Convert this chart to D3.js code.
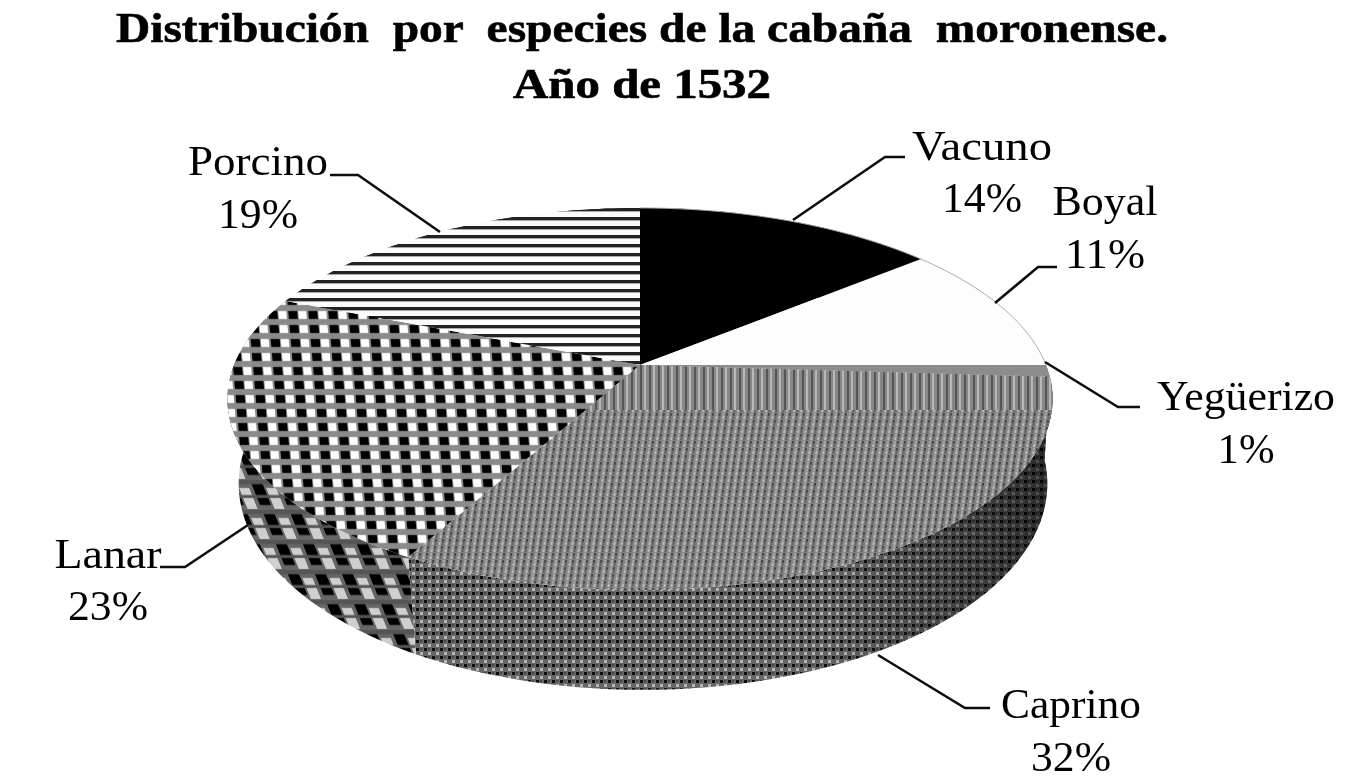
<!DOCTYPE html>
<html><head><meta charset="utf-8">
<script src="https://cdnjs.cloudflare.com/ajax/libs/d3/7.8.5/d3.min.js"></script>
<style>html,body{margin:0;background:#fff}svg{display:block}text{font-family:"Liberation Serif",serif;fill:#000}</style>
</head><body><svg id="c" width="1358" height="782"></svg>
<script>
const titleLines=["Distribución  por  especies de la cabaña  moronense.","Año de 1532"];
const titleWidths=[1052,258];
const categories=["Vacuno","Boyal","Yegüerizo","Caprino","Lanar","Porcino"];
const values=[14,11,1,32,23,19];
const patternIds=["vac","boy","yeg","cap","lan","por"];
const wallIds=["vac","boy","yeg","capw","lanw","por"];
const labelPos=[[982,160,212],[1105,215,268],[1246,410,463],[1071,718,771],[108,568,620],[258,175,228]];
const labelWidths=[140,105,178,140,107,140];
const pctWidths=[80,80,57,80,80,80];
const leaders=[[[905,157],[885,157],[793,220]],[[1057,267],[1038,267],[995,303]],[[1140,407],[1118,407],[1045,362]],[[990,708],[965,708],[878,655]],[[160,567],[185,567],[248,525]],[[330,175],[358,175],[440,232]]];

const svg=d3.select("#c");
const defs=svg.append("defs");
defs.append("filter").attr("id","soft").attr("x",0).attr("y",0).attr("width",1).attr("height",1)
  .append("feGaussianBlur").attr("stdDeviation",0.7);
function pat(id,w,h,bg,cells,tf){
  const p=defs.append("pattern").attr("id",id).attr("patternUnits","userSpaceOnUse").attr("width",w).attr("height",h);
  if(tf)p.attr("patternTransform",tf);
  p.append("rect").attr("width",w).attr("height",h).attr("fill",bg);
  cells.forEach(c=>p.append("rect").attr("x",c[0]).attr("y",c[1]).attr("width",c[2]).attr("height",c[3]).attr("fill",c[4]));
}
pat("vac",4,4,"#000",[]);
pat("boy",4,4,"#fdfdfd",[]);
pat("yeg",4,4,"#8c8c8c",[]);
pat("cap",7,7,"#858585",[[0,0,2,3,"#444"],[4,3,2,3,"#c0c0c0"],[4,0,2,2,"#a8a8a8"],[0,4,2,2,"#5c5c5c"]],"skewX(-8)");
pat("capv",9,10,"#878787",[[1,0,2,10,"#555"],[5,0,2,10,"#b8b8b8"]]);
pat("capw",8,8,"#666",[[0,0,3,3,"#0c0c0c"],[4,4,3,3,"#b5b5b5"],[4,0,2,2,"#444"]]);
pat("lan",20,14,"#8a8a8a",[[1,3,9,8,"#000"],[11,3,8,8,"#fff"]],"skewX(5)");
pat("lanw",27,30,"#666",[[2,4,11,21,"#000"],[15,8,10,21,"#cfcfcf"],[0,0,27,4,"#555"],[0,15,27,3,"#555"]],"skewX(22)");
pat("por",12,9,"#fbfbfb",[[0,1,12,3,"#222"],[0,4,12,1,"#aaa"]]);
const shade=defs.append("linearGradient").attr("id","shade").attr("gradientUnits","userSpaceOnUse")
  .attr("x1",820).attr("x2",1050).attr("y1",0).attr("y2",0);
shade.append("stop").attr("offset",0).attr("stop-color","#000").attr("stop-opacity",0);
shade.append("stop").attr("offset",1).attr("stop-color","#000").attr("stop-opacity",0.6);

const cx=640,cy=365,rx=406,ry=185,k=0.178,depth=82,lowerScale=0.98,lowerShift=3;
const x=d3.scaleLinear().domain([-1,1]).range([cx-rx,cx+rx]);
const y=d3.scaleLinear().domain([-1,1]).range([cy-ry,cy+ry]);
const project=(a,r,d=0)=>{const u=Math.sin(a)*r,v=-Math.cos(a)*r,w=1-k*v;
  return d?[cx+lowerShift+(x(u/w)-cx)*lowerScale,y(v/w)+d/w]:[x(u/w),y(v/w)];};
const arcs=d3.pie().sort(null)(values);
const line=d3.line();
const sample=(a0,a1,d)=>d3.range(0,61).map(i=>project(a0+(a1-a0)*i/60,1,d));
const topPath=s=>line([project(0,0),...sample(s.startAngle,s.endAngle,0)])+"Z";
const wallPath=s=>line([...sample(s.startAngle,s.endAngle,0),...sample(s.endAngle,s.startAngle,depth)])+"Z";

defs.append("clipPath").attr("id","capClip").append("path").attr("d",topPath(arcs[3]));
const g=svg.append("g").attr("filter","url(#soft)");
g.selectAll("path.wall").data(arcs).join("path").attr("class","wall").attr("d",wallPath)
  .attr("fill",(d,i)=>`url(#${wallIds[i]})`);
g.append("path").attr("d",wallPath(arcs[3])).attr("fill","url(#shade)");
g.selectAll("path.top").data(arcs).join("path").attr("class","top").attr("d",topPath)
  .attr("fill",(d,i)=>`url(#${patternIds[i]})`);
g.append("rect").attr("x",560).attr("y",365).attr("width",500).attr("height",45).attr("fill","url(#capv)").attr("clip-path","url(#capClip)");
g.selectAll("path.edge").data(arcs.slice(0,2)).join("path").attr("class","edge").attr("d",s=>line(sample(s.startAngle,s.endAngle,0)))
  .attr("fill","none").attr("stroke","#aaa").attr("stroke-width",1);
g.selectAll("path.lead").data(leaders).join("path").attr("class","lead").attr("d",d=>line(d)).attr("fill","none").attr("stroke","#111").attr("stroke-width",2.6);
g.selectAll("text.title").data(titleLines).join("text").attr("class","title").attr("x",642).attr("y",(d,i)=>42+i*56)
  .attr("text-anchor","middle").attr("font-size",42).attr("font-weight","bold").attr("stroke","#000").attr("stroke-width",0.6).style("white-space","pre")
  .attr("textLength",(d,i)=>titleWidths[i]).attr("lengthAdjust","spacingAndGlyphs").text(d=>d);
categories.forEach((c,i)=>{
  g.append("text").attr("x",labelPos[i][0]).attr("y",labelPos[i][1]).attr("text-anchor","middle").attr("font-size",42)
    .attr("textLength",labelWidths[i]).attr("lengthAdjust","spacingAndGlyphs").text(c);
  g.append("text").attr("x",labelPos[i][0]).attr("y",labelPos[i][2]).attr("text-anchor","middle").attr("font-size",42)
    .attr("textLength",pctWidths[i]).attr("lengthAdjust","spacingAndGlyphs").text(values[i]+"%");
});
</script></body></html>
